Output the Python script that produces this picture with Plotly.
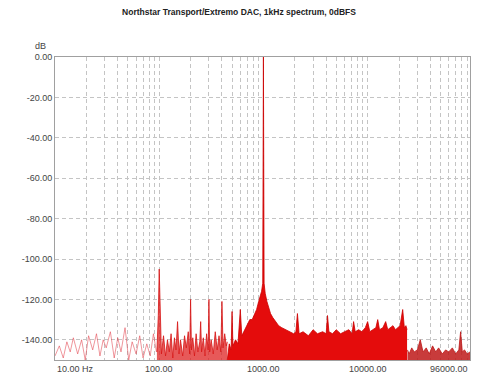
import math
import plotly.graph_objects as go

# Spectrum of a 1 kHz tone, split into bands by how dense the trace is
# 10-95 Hz: sparse low-level noise
low_freq = [10, 11, 12, 13, 14, 15, 16.5, 18, 19.5, 21, 23, 25, 27, 29, 31, 34, 37, 40,
            43, 47, 51, 55, 60, 65, 70, 76, 82, 88, 94]
low_db = [-148, -143, -149, -141, -146, -139, -147, -140, -150, -138, -145, -137, -148,
          -140, -144, -136, -149, -139, -146, -134, -150, -141, -147, -138, -149, -142,
          -148, -137, -146]

# 95-450 Hz: mains harmonics over rising noise
mid_freq = [95, 98, 100, 102, 105, 110, 115, 120, 125, 130, 135, 140, 145, 150, 155, 160,
            168, 175, 182, 190, 196, 200, 204, 210, 218, 226, 235, 245, 250, 255, 265, 275,
            285, 295, 300, 305, 315, 330, 345, 360, 375, 390, 400, 410, 425, 440, 450]
mid_db = [-146, -128, -105, -130, -147, -138, -148, -140, -146, -137, -149, -139, -145,
          -131, -147, -140, -148, -138, -144, -136, -147, -120, -145, -139, -148, -137,
          -146, -141, -131, -146, -139, -148, -137, -145, -120, -146, -140, -147, -136,
          -145, -138, -146, -121, -144, -137, -143, -141]

# 450 Hz - 24 kHz: fundamental, skirt and dense noise band
band_freq = [450, 470, 490, 500, 510, 540, 570, 600, 620, 650, 700, 740, 780, 820, 860,
             900, 930, 960, 985, 1000, 1015, 1040, 1080, 1120, 1170, 1230, 1300, 1400,
             1500, 1650, 1800, 1950, 2050, 2120, 2200, 2400, 2700, 3000, 3300, 3700, 4000,
             4120, 4250, 4600, 5000, 5500, 6000, 6600, 7100, 7330, 7600, 8200, 8800, 9500,
             10000, 10500, 11200, 12000, 12500, 13000, 14000, 14900, 15600, 16500, 17500,
             18500, 19500, 20500, 21700, 22500, 23300, 23900]
band_db = [-150, -142, -145, -126, -143, -140, -142, -125, -138, -136, -133, -130, -130,
           -127, -125, -121, -119, -116, -112, 0, -112, -117, -121, -124, -127, -129, -131,
           -133, -134, -135, -136, -137, -136, -127, -137, -136, -138, -135, -137, -136,
           -137, -128, -136, -137, -135, -137, -136, -135, -137, -131, -136, -135, -136,
           -134, -131, -136, -135, -134, -130, -135, -134, -131, -135, -134, -133, -135,
           -134, -133, -125, -134, -133, -135]

# 24-96 kHz: low floor above the cutoff
high_freq = [24100, 25000, 26500, 28000, 30000, 32000, 34000, 36500, 39000, 42000, 45000,
             48000, 52000, 56000, 60000, 65000, 70000, 75000, 78000, 81000, 85000, 90000,
             96000]
high_db = [-145, -147, -144, -146, -145, -140, -146, -144, -147, -143, -146, -144, -147,
           -145, -146, -144, -147, -145, -136, -146, -145, -147, -146]

title_text = "Northstar Transport/Extremo DAC, 1kHz spectrum, 0dBFS"
y_ticks = [0, -20, -40, -60, -80, -100, -120, -140]
x_labels = [(10, "10.00 Hz", "left"), (100, "100.00", "center"),
            (1000, "1000.00", "center"), (10000, "10000.00", "center"),
            (96000, "96000.00", "right")]

FLOOR = -150
GRID = "#c4c4c4"
LABEL_FONT = dict(family="Liberation Sans", size=9, color="#444")
fig = go.Figure()


def add_band(freq, db, line_color, fill_color, width):
    # invisible baseline so the band can fill down to the floor
    fig.add_trace(go.Scatter(x=freq, y=[FLOOR] * len(freq), mode="lines",
                             line=dict(width=0, color="rgba(0,0,0,0)"),
                             hoverinfo="skip", showlegend=False))
    fig.add_trace(go.Scatter(x=freq, y=db, mode="lines",
                             line=dict(color=line_color, width=width),
                             fill="tonexty" if fill_color else None,
                             fillcolor=fill_color, showlegend=False))


add_band(low_freq, low_db, "rgba(225,60,70,0.6)", None, 0.9)
add_band(mid_freq, mid_db, "rgb(215,20,20)", "rgba(222,25,25,0.72)", 0.8)
add_band(band_freq, band_db, "rgb(205,0,0)", "rgb(228,12,12)", 0.8)
add_band(high_freq, high_db, "rgb(190,20,20)", "rgba(190,25,25,0.85)", 0.8)

grid_vals = [m * 10 ** d for d in range(1, 5) for m in range(1, 10) if m * 10 ** d <= 96000]

fig.update_xaxes(type="log", range=[1, math.log10(96000)], tickvals=grid_vals,
                 ticktext=[""] * len(grid_vals), ticks="",
                 showgrid=True, gridcolor=GRID, griddash="4px,3px", gridwidth=1,
                 showline=True, linecolor="#a0a0a0", linewidth=1, mirror=True,
                 zeroline=False)
fig.update_yaxes(range=[-150, 0], tickvals=y_ticks,
                 ticktext=["%.2f" % v for v in y_ticks], ticks="",
                 tickfont=LABEL_FONT,
                 showgrid=True, gridcolor=GRID, griddash="4px,3px", gridwidth=1,
                 showline=True, linecolor="#a0a0a0", linewidth=1, mirror=True,
                 zeroline=False)

for val, text, anchor in x_labels:
    fig.add_annotation(x=math.log10(val), y=0, xref="x", yref="paper",
                       text=text, showarrow=False, xanchor=anchor, yanchor="top",
                       yshift=-2, font=LABEL_FONT)

fig.add_annotation(x=-0.036, y=1.012, xref="paper", yref="paper", text="dB",
                   showarrow=False, xanchor="center", yanchor="bottom",
                   font=LABEL_FONT)

fig.update_layout(
    width=478, height=380,
    margin=dict(l=55, r=8, t=57, b=20),
    paper_bgcolor="white", plot_bgcolor="white",
    title=dict(text="<b>" + title_text + "</b>", x=0.5, xref="container",
               xanchor="center", y=0.968, yanchor="middle",
               font=dict(family="Liberation Sans", size=8.5, color="#222")),
)

fig.write_html("out.html")
